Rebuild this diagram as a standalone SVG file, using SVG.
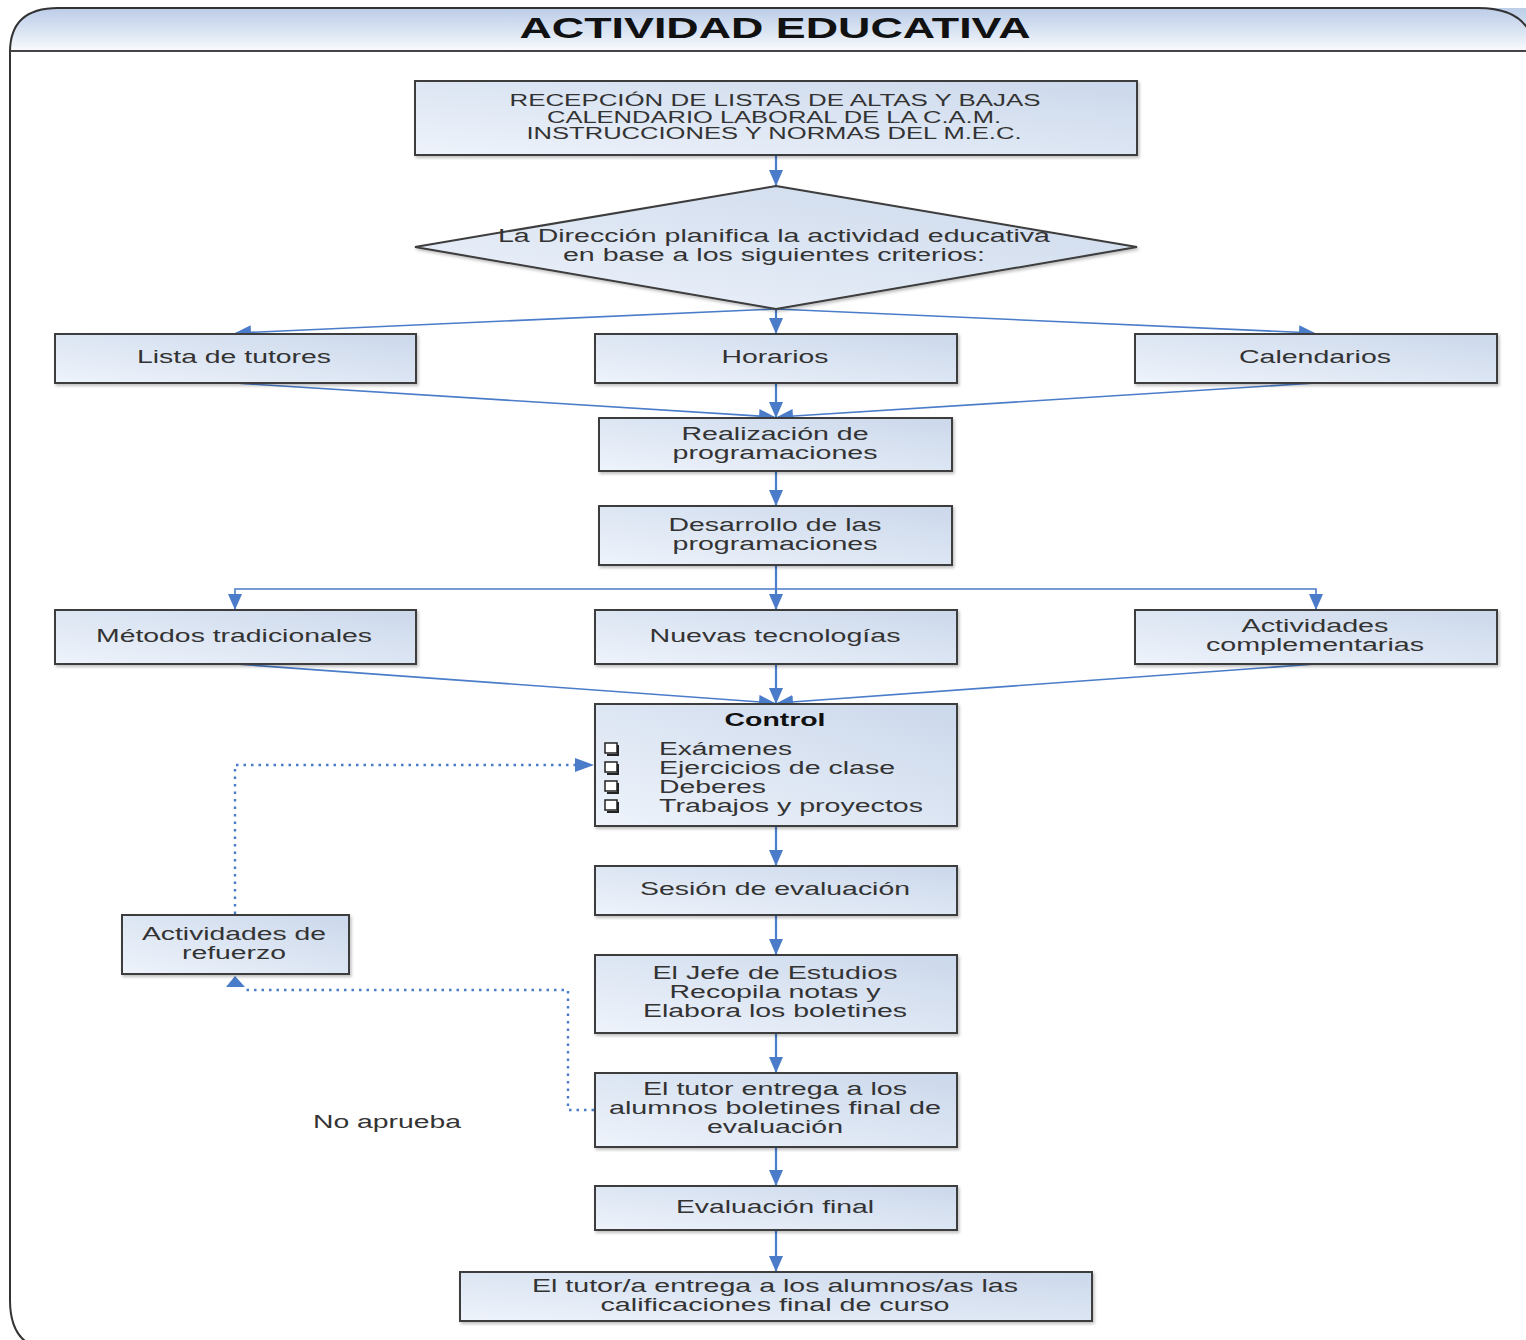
<svg xmlns="http://www.w3.org/2000/svg" width="1526" height="1340" viewBox="0 0 1526 1340">
<defs>
<linearGradient id="boxg" x1="0" y1="1" x2="1" y2="0">
<stop offset="0" stop-color="#eef3fb"/>
<stop offset="1" stop-color="#cbd8eb"/>
</linearGradient>
<linearGradient id="headg" x1="0" y1="0" x2="0" y2="1">
<stop offset="0" stop-color="#bccde8"/>
<stop offset="0.55" stop-color="#dbe5f3"/>
<stop offset="1" stop-color="#fbfcfe"/>
</linearGradient>
<filter id="sh" x="-5%" y="-5%" width="110%" height="120%">
<feDropShadow dx="1.5" dy="2" stdDeviation="1.5" flood-color="#000" flood-opacity="0.25"/>
</filter>
<marker id="ahb" viewBox="0 0 16 14" refX="15" refY="7" markerWidth="16" markerHeight="14" markerUnits="userSpaceOnUse" orient="auto">
<path d="M0,0 L16,7 L0,14 Z" fill="#4a7cc9"/>
</marker>
</defs>
<style>
.box{fill:url(#boxg);stroke:#3c3c3c;stroke-width:2;filter:url(#sh)}
.t{font-family:"Liberation Sans",Arial,sans-serif;font-size:18px;fill:#333;text-anchor:middle;dominant-baseline:central}
.tl{font-family:"Liberation Sans",Arial,sans-serif;font-size:18px;fill:#333;dominant-baseline:central}
.tc{font-family:"Liberation Sans Narrow","Liberation Sans",Arial,sans-serif;font-size:16px;fill:#333;text-anchor:middle;dominant-baseline:central}
.c{fill:none;stroke:#4a7cc9;stroke-width:1.6}
.cv{fill:none;stroke:#4a7cc9;stroke-width:2.2}
.d{fill:none;stroke:#4a7cc9;stroke-width:2.4;stroke-dasharray:2.5,5}
.chk{fill:#fff;stroke:#222;stroke-width:1.5}
</style>
<g id="frame">
<path d="M10,52 L1535,52 L1535,8 L58,8 Q10,8 10,52 Z" fill="url(#headg)"/>
<path d="M1535,1350 L55,1350 Q10,1350 10,1300 L10,52 Q10,8 58,8 L1478,8 Q1530,8 1535,50" fill="none" stroke="#333" stroke-width="2"/>
<line x1="10" y1="51" x2="1526" y2="51" stroke="#444" stroke-width="2"/>
<text x="775" y="27" class="t" style="font-size:30px;font-weight:bold;fill:#111" textLength="511" lengthAdjust="spacingAndGlyphs">ACTIVIDAD EDUCATIVA</text>
</g>
<g id="connectors">
<line class="cv" x1="776" y1="155" x2="776" y2="185" marker-end="url(#ahb)"/>
<line class="c" x1="776" y1="309" x2="236" y2="333" marker-end="url(#ahb)"/>
<line class="cv" x1="776" y1="309" x2="776" y2="333" marker-end="url(#ahb)"/>
<line class="c" x1="776" y1="309" x2="1314" y2="333" marker-end="url(#ahb)"/>
<line class="c" x1="235" y1="383" x2="774" y2="417" marker-end="url(#ahb)"/>
<line class="cv" x1="776" y1="383" x2="776" y2="417" marker-end="url(#ahb)"/>
<line class="c" x1="1316" y1="383" x2="778" y2="417" marker-end="url(#ahb)"/>
<line class="cv" x1="776" y1="471" x2="776" y2="505" marker-end="url(#ahb)"/>
<line class="cv" x1="776" y1="565" x2="776" y2="609" marker-end="url(#ahb)"/>
<path class="c" d="M776,589 L235,589 L235,609" marker-end="url(#ahb)"/>
<path class="c" d="M776,589 L1316,589 L1316,609" marker-end="url(#ahb)"/>
<line class="c" x1="235" y1="664" x2="774" y2="703" marker-end="url(#ahb)"/>
<line class="cv" x1="776" y1="664" x2="776" y2="703" marker-end="url(#ahb)"/>
<line class="c" x1="1316" y1="664" x2="778" y2="703" marker-end="url(#ahb)"/>
<line class="cv" x1="776" y1="826" x2="776" y2="865" marker-end="url(#ahb)"/>
<line class="cv" x1="776" y1="915" x2="776" y2="954" marker-end="url(#ahb)"/>
<line class="cv" x1="776" y1="1033" x2="776" y2="1072" marker-end="url(#ahb)"/>
<line class="cv" x1="776" y1="1147" x2="776" y2="1185" marker-end="url(#ahb)"/>
<line class="cv" x1="776" y1="1230" x2="776" y2="1271" marker-end="url(#ahb)"/>
<path class="d" d="M235,914 L235,765 L580,765"/>
<path d="M575,758 L594,765 L575,772 Z" fill="#4a7cc9"/>
<path class="d" d="M594,1110 L568,1110 L568,990 L242,990"/>
<path d="M226,987 L235,976 L245,987 Z" fill="#4a7cc9"/>
</g>
<g id="n-recepcion">
<rect class="box" x="415" y="81" width="722" height="74"/>
<text class="tc" x="775" y="100" textLength="531" lengthAdjust="spacingAndGlyphs">RECEPCIÓN DE LISTAS DE ALTAS Y BAJAS</text>
<text class="tc" x="774" y="117" textLength="454" lengthAdjust="spacingAndGlyphs">CALENDARIO LABORAL DE LA C.A.M.</text>
<text class="tc" x="774" y="133" textLength="495" lengthAdjust="spacingAndGlyphs">INSTRUCCIONES Y NORMAS DEL M.E.C.</text>
</g>
<g id="n-direccion">
<path d="M776,186 L1137,247 L776,309 L415,247 Z" fill="url(#boxg)" stroke="#3c3c3c" stroke-width="2" filter="url(#sh)"/>
<text class="t" x="774" y="236" textLength="552" lengthAdjust="spacingAndGlyphs">La Dirección planifica la actividad educativa</text>
<text class="t" x="774" y="255" textLength="422" lengthAdjust="spacingAndGlyphs">en base a los siguientes criterios:</text>
</g>
<g id="n-tutores">
<rect class="box" x="55" y="334" width="361" height="49"/>
<text class="t" x="234" y="357" textLength="194" lengthAdjust="spacingAndGlyphs">Lista de tutores</text>
</g>
<g id="n-horarios">
<rect class="box" x="595" y="334" width="362" height="49"/>
<text class="t" x="775" y="357" textLength="107" lengthAdjust="spacingAndGlyphs">Horarios</text>
</g>
<g id="n-calendarios">
<rect class="box" x="1135" y="334" width="362" height="49"/>
<text class="t" x="1315" y="357" textLength="152" lengthAdjust="spacingAndGlyphs">Calendarios</text>
</g>
<g id="n-realizacion">
<rect class="box" x="599" y="418" width="353" height="53"/>
<text class="t" x="775" y="434" textLength="187" lengthAdjust="spacingAndGlyphs">Realización de</text>
<text class="t" x="775" y="453" textLength="205" lengthAdjust="spacingAndGlyphs">programaciones</text>
</g>
<g id="n-desarrollo">
<rect class="box" x="599" y="506" width="353" height="59"/>
<text class="t" x="775" y="525" textLength="213" lengthAdjust="spacingAndGlyphs">Desarrollo de las</text>
<text class="t" x="775" y="544" textLength="205" lengthAdjust="spacingAndGlyphs">programaciones</text>
</g>
<g id="n-metodos">
<rect class="box" x="55" y="610" width="361" height="54"/>
<text class="t" x="234" y="636" textLength="276" lengthAdjust="spacingAndGlyphs">Métodos tradicionales</text>
</g>
<g id="n-nuevas">
<rect class="box" x="595" y="610" width="362" height="54"/>
<text class="t" x="775" y="636" textLength="251" lengthAdjust="spacingAndGlyphs">Nuevas tecnologías</text>
</g>
<g id="n-complementarias">
<rect class="box" x="1135" y="610" width="362" height="54"/>
<text class="t" x="1315" y="626" textLength="147" lengthAdjust="spacingAndGlyphs">Actividades</text>
<text class="t" x="1315" y="645" textLength="218" lengthAdjust="spacingAndGlyphs">complementarias</text>
</g>
<g id="n-control">
<rect class="box" x="595" y="704" width="362" height="122"/>
<text class="t" x="775" y="720" style="font-weight:bold;fill:#111" textLength="101" lengthAdjust="spacingAndGlyphs">Control</text>
<rect class="chk" x="605" y="743" width="12" height="10"/>
<path d="M618,745 L618,755 L607,755" fill="none" stroke="#222" stroke-width="2"/>
<rect class="chk" x="605" y="762" width="12" height="10"/>
<path d="M618,764 L618,774 L607,774" fill="none" stroke="#222" stroke-width="2"/>
<rect class="chk" x="605" y="781" width="12" height="10"/>
<path d="M618,783 L618,793 L607,793" fill="none" stroke="#222" stroke-width="2"/>
<rect class="chk" x="605" y="800" width="12" height="10"/>
<path d="M618,802 L618,812 L607,812" fill="none" stroke="#222" stroke-width="2"/>
<text class="tl" x="659" y="749" textLength="133" lengthAdjust="spacingAndGlyphs">Exámenes</text>
<text class="tl" x="659" y="768" textLength="236" lengthAdjust="spacingAndGlyphs">Ejercicios de clase</text>
<text class="tl" x="659" y="787" textLength="107" lengthAdjust="spacingAndGlyphs">Deberes</text>
<text class="tl" x="659" y="806" textLength="264" lengthAdjust="spacingAndGlyphs">Trabajos y proyectos</text>
</g>
<g id="n-sesion">
<rect class="box" x="595" y="866" width="362" height="49"/>
<text class="t" x="775" y="889" textLength="270" lengthAdjust="spacingAndGlyphs">Sesión de evaluación</text>
</g>
<g id="n-jefe">
<rect class="box" x="595" y="955" width="362" height="78"/>
<text class="t" x="775" y="973" textLength="245" lengthAdjust="spacingAndGlyphs">El Jefe de Estudios</text>
<text class="t" x="775" y="992" textLength="211" lengthAdjust="spacingAndGlyphs">Recopila notas y</text>
<text class="t" x="775" y="1011" textLength="264" lengthAdjust="spacingAndGlyphs">Elabora los boletines</text>
</g>
<g id="n-tutor-entrega">
<rect class="box" x="595" y="1073" width="362" height="74"/>
<text class="t" x="775" y="1089" textLength="264" lengthAdjust="spacingAndGlyphs">El tutor entrega a los</text>
<text class="t" x="775" y="1108" textLength="332" lengthAdjust="spacingAndGlyphs">alumnos boletines final de</text>
<text class="t" x="775" y="1127" textLength="136" lengthAdjust="spacingAndGlyphs">evaluación</text>
</g>
<g id="n-evaluacion-final">
<rect class="box" x="595" y="1186" width="362" height="44"/>
<text class="t" x="775" y="1207" textLength="198" lengthAdjust="spacingAndGlyphs">Evaluación final</text>
</g>
<g id="n-calificaciones">
<rect class="box" x="460" y="1272" width="632" height="49"/>
<text class="t" x="775" y="1286" textLength="486" lengthAdjust="spacingAndGlyphs">El tutor/a entrega a los alumnos/as las</text>
<text class="t" x="775" y="1305" textLength="349" lengthAdjust="spacingAndGlyphs">calificaciones final de curso</text>
</g>
<g id="n-refuerzo">
<rect class="box" x="122" y="915" width="227" height="59"/>
<text class="t" x="234" y="934" textLength="184" lengthAdjust="spacingAndGlyphs">Actividades de</text>
<text class="t" x="234" y="953" textLength="104" lengthAdjust="spacingAndGlyphs">refuerzo</text>
</g>
<g id="label-no-aprueba">
<text class="tl" x="313" y="1122" textLength="148" lengthAdjust="spacingAndGlyphs">No aprueba</text>
</g>
</svg>
